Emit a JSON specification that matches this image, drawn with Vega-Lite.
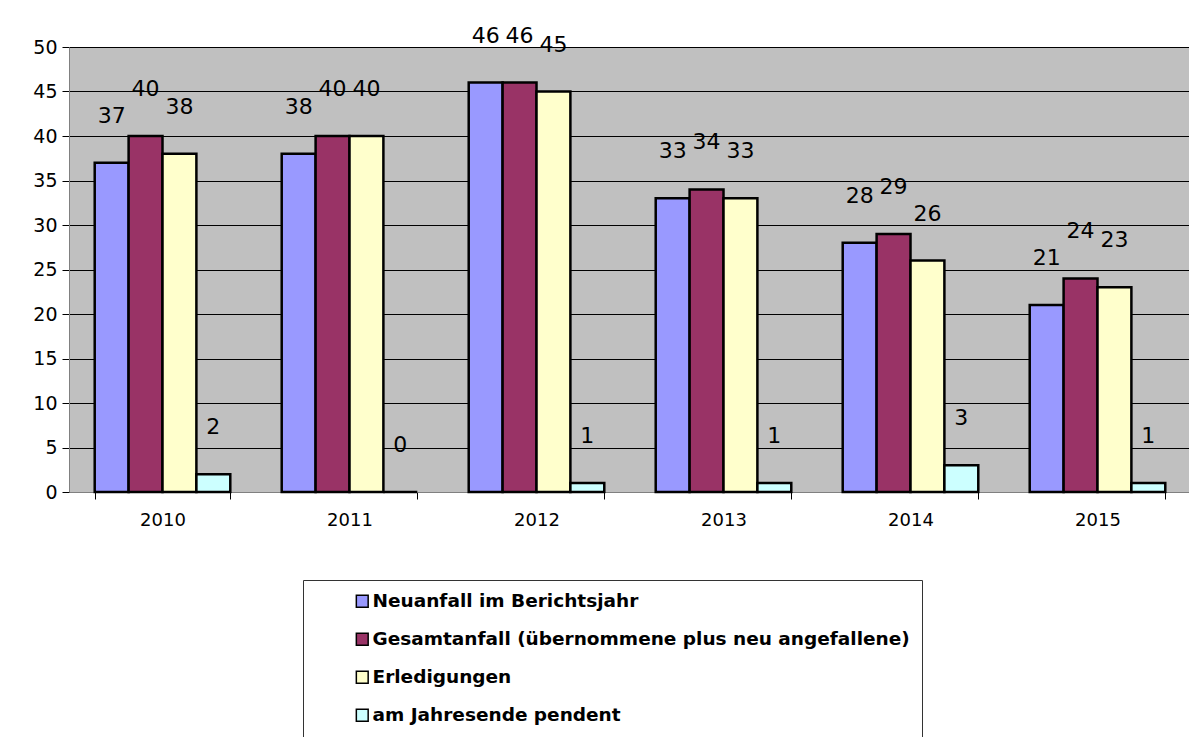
{
  "$schema": "https://vega.github.io/schema/vega-lite/v6.json",
  "autosize": "none",
  "width": 1122,
  "height": 445,
  "padding": {"left": 69, "top": 47, "right": 0, "bottom": 245},
  "background": "white",
  "config": {
    "font": "DejaVu Sans",
    "view": {"fill": "#C0C0C0", "stroke": null}
  },
  "data": {
    "values": [
      {"Jahr": "2010", "Serie": "Neuanfall im Berichtsjahr", "Wert": 37},
      {"Jahr": "2010", "Serie": "Gesamtanfall (übernommene plus neu angefallene)", "Wert": 40},
      {"Jahr": "2010", "Serie": "Erledigungen", "Wert": 38},
      {"Jahr": "2010", "Serie": "am Jahresende pendent", "Wert": 2},
      {"Jahr": "2011", "Serie": "Neuanfall im Berichtsjahr", "Wert": 38},
      {"Jahr": "2011", "Serie": "Gesamtanfall (übernommene plus neu angefallene)", "Wert": 40},
      {"Jahr": "2011", "Serie": "Erledigungen", "Wert": 40},
      {"Jahr": "2011", "Serie": "am Jahresende pendent", "Wert": 0},
      {"Jahr": "2012", "Serie": "Neuanfall im Berichtsjahr", "Wert": 46},
      {"Jahr": "2012", "Serie": "Gesamtanfall (übernommene plus neu angefallene)", "Wert": 46},
      {"Jahr": "2012", "Serie": "Erledigungen", "Wert": 45},
      {"Jahr": "2012", "Serie": "am Jahresende pendent", "Wert": 1},
      {"Jahr": "2013", "Serie": "Neuanfall im Berichtsjahr", "Wert": 33},
      {"Jahr": "2013", "Serie": "Gesamtanfall (übernommene plus neu angefallene)", "Wert": 34},
      {"Jahr": "2013", "Serie": "Erledigungen", "Wert": 33},
      {"Jahr": "2013", "Serie": "am Jahresende pendent", "Wert": 1},
      {"Jahr": "2014", "Serie": "Neuanfall im Berichtsjahr", "Wert": 28},
      {"Jahr": "2014", "Serie": "Gesamtanfall (übernommene plus neu angefallene)", "Wert": 29},
      {"Jahr": "2014", "Serie": "Erledigungen", "Wert": 26},
      {"Jahr": "2014", "Serie": "am Jahresende pendent", "Wert": 3},
      {"Jahr": "2015", "Serie": "Neuanfall im Berichtsjahr", "Wert": 21},
      {"Jahr": "2015", "Serie": "Gesamtanfall (übernommene plus neu angefallene)", "Wert": 24},
      {"Jahr": "2015", "Serie": "Erledigungen", "Wert": 23},
      {"Jahr": "2015", "Serie": "am Jahresende pendent", "Wert": 1}
    ]
  },
  "encoding": {
    "x": {
      "field": "Jahr", "type": "nominal",
      "scale": {"paddingInner": 0.275, "paddingOuter": 0.1375},
      "axis": {
        "title": null, "labelAngle": 0, "tickBand": "extent",
        "domainColor": "#808080", "tickColor": "black", "tickSize": 7,
        "labelFontSize": 18, "labelColor": "black", "labelPadding": 12,
        "grid": false
      }
    },
    "xOffset": {
      "field": "Serie", "type": "nominal",
      "sort": ["Neuanfall im Berichtsjahr", "Gesamtanfall (übernommene plus neu angefallene)", "Erledigungen", "am Jahresende pendent"],
      "scale": {"paddingInner": 0, "paddingOuter": 0}
    },
    "y": {
      "field": "Wert", "type": "quantitative",
      "scale": {"domain": [0, 50], "nice": false},
      "axis": {
        "title": null, "values": [0,5,10,15,20,25,30,35,40,45,50],
        "gridColor": "black", "gridOpacity": 1, "gridWidth": 1,
        "domainColor": "#808080", "tickColor": "black", "tickSize": 7,
        "labelFontSize": 19, "labelColor": "black", "labelPadding": 5
      }
    }
  },
  "layer": [
    {
      "mark": {"type": "bar", "stroke": "black", "strokeWidth": 2.5},
      "encoding": {
        "color": {
          "field": "Serie", "type": "nominal",
          "sort": ["Neuanfall im Berichtsjahr", "Gesamtanfall (übernommene plus neu angefallene)", "Erledigungen", "am Jahresende pendent"],
          "scale": {
            "domain": ["Neuanfall im Berichtsjahr", "Gesamtanfall (übernommene plus neu angefallene)", "Erledigungen", "am Jahresende pendent"],
            "range": ["#9999FF", "#993366", "#FFFFCC", "#CCFFFF"]
          },
          "legend": {
            "title": null, "orient": "none", "legendX": 234, "legendY": 533,
            "direction": "vertical",
            "strokeColor": "#333333", "padding": 12, "fillColor": "white",
            "symbolType": "square", "symbolSize": 140, "symbolStrokeColor": "black", "symbolStrokeWidth": 1.5,
            "symbolOffset": 38,
            "labelFontSize": 18.5, "labelFontWeight": "bold", "labelColor": "black",
            "labelLimit": 1000, "labelOffset": 1, "rowPadding": 19
          }
        }
      }
    },
    {
      "mark": {"type": "text", "fontSize": 22, "dy": -47, "baseline": "middle", "color": "black"},
      "encoding": {"text": {"field": "Wert", "type": "quantitative"}}
    }
  ]
}
